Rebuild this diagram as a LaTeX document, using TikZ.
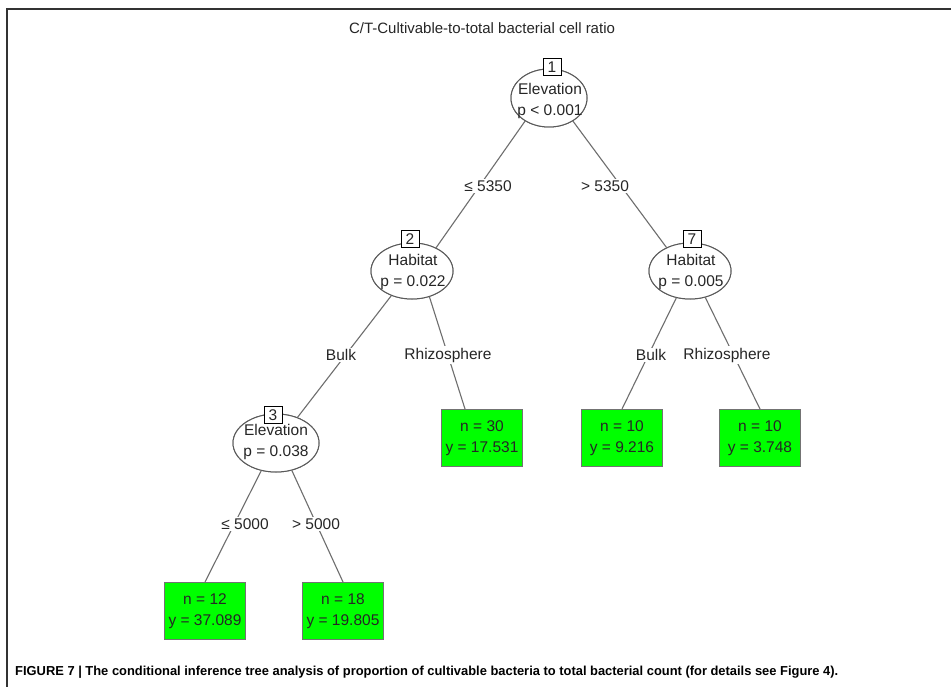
\documentclass[tikz,border=0pt]{standalone}
\usepackage{fontspec}
\setmainfont{Liberation Sans}
\usetikzlibrary{shapes.geometric,calc}
\definecolor{conngray}{HTML}{6E6E6E}
\definecolor{leafgreen}{HTML}{00FF00}
\definecolor{framegray}{HTML}{333333}
\definecolor{txtgray}{HTML}{262626}
\begin{document}
\begin{tikzpicture}[x=1pt,y=-1pt,
  inner/.style={ellipse, draw=black!65, line width=1pt, fill=white, inner sep=0pt},
  ntext/.style={inner sep=0pt, align=center, text=txtgray, font=\fontsize{15.5}{21}\selectfont},
  leaf/.style={rectangle, draw=black!55, line width=1pt, fill=leafgreen, minimum width=81pt, minimum height=57pt, inner sep=0pt, align=center, text=txtgray, font=\fontsize{15.5}{21}\selectfont},
  idbox/.style={rectangle, draw=black, line width=0.9pt, fill=white, minimum width=18pt, minimum height=17pt, inner sep=0pt, text=txtgray, font=\fontsize{15.5}{15.5}\selectfont},
  conn/.style={draw=conngray, line width=1.1pt},
  elabel/.style={fill=white, inner sep=1.5pt, text=txtgray, font=\fontsize{15.5}{15.5}\selectfont}]
\useasboundingbox (0,0) rectangle (951,687);
\fill[white] (0,0) rectangle (951,687);
\draw[framegray, line width=1.6pt] (7,687) -- (7,9) -- (951,9);

% title
\node[text=txtgray, font=\fontsize{15}{15}\selectfont] (title) at (482,28) {C/T-Cultivable-to-total bacterial cell ratio};

% inner nodes (ellipses)
\node[inner, minimum width=76pt, minimum height=58pt] (n1) at (549,98) {};
\node[inner, minimum width=82pt, minimum height=56pt] (n2) at (412,271) {};
\node[inner, minimum width=82pt, minimum height=56pt] (n7) at (690,271) {};
\node[inner, minimum width=86pt, minimum height=58pt] (n3) at (276,443) {};

% leaves
\node[leaf] (l6) at (482,438) {n = 30\\y = 17.531};
\node[leaf] (l8) at (622,438) {n = 10\\y = 9.216};
\node[leaf] (l9) at (760,438) {n = 10\\y = 3.748};
\node[leaf] (l4) at (205,611) {n = 12\\y = 37.089};
\node[leaf] (l5) at (343,611) {n = 18\\y = 19.805};

% connectors
\draw[conn] (n1.224) -- (n2.44);
\draw[conn] (n1.316) -- (n7.135);
\draw[conn] (n2.230) -- (n3.50);
\draw[conn] (n2.304) -- ($(l6.north)+(-17,0)$);
\draw[conn] (n7.243) -- (l8.north);
\draw[conn] (n7.300) -- (l9.north);
\draw[conn] (n3.242) -- (l4.north);
\draw[conn] (n3.300) -- (l5.north);

% redraw ellipses above connectors
\node[inner, minimum width=76pt, minimum height=58pt] at (n1) {};
\node[inner, minimum width=82pt, minimum height=56pt] at (n2) {};
\node[inner, minimum width=82pt, minimum height=56pt] at (n7) {};
\node[inner, minimum width=86pt, minimum height=58pt] at (n3) {};

% node texts
\node[ntext] (t1) at (550,101) {Elevation\\p < 0.001};
\node[ntext] (t2) at (413,272) {Habitat\\p = 0.022};
\node[ntext] (t7) at (691,272) {Habitat\\p = 0.005};
\node[ntext] (t3) at (276,442) {Elevation\\p = 0.038};

% id boxes
\node[idbox] (b1) at (552,67) {1};
\node[idbox] (b2) at (410,239) {2};
\node[idbox] (b7) at (692,239) {7};
\node[idbox] (b3) at (273,415) {3};

% edge labels
\node[elabel] (e12) at (488,186) {≤ 5350};
\node[elabel] (e17) at (605,186) {> 5350};
\node[elabel] (e23) at (341,355) {Bulk};
\node[elabel] (e26) at (448,355) {Rhizosphere};
\node[elabel] (e78) at (651,355) {Bulk};
\node[elabel] (e79) at (727,355) {Rhizosphere};
\node[elabel] (e34) at (245,524) {≤ 5000};
\node[elabel] (e35) at (316,524) {> 5000};

% caption
\node[anchor=west, inner sep=0pt] (cap) at (15,672) {\resizebox{823pt}{\height}{\fontsize{13}{15}\selectfont\bfseries FIGURE 7 | The conditional inference tree analysis of proportion of cultivable bacteria to total bacterial count (for details see Figure 4).}};
\end{tikzpicture}
\end{document}
